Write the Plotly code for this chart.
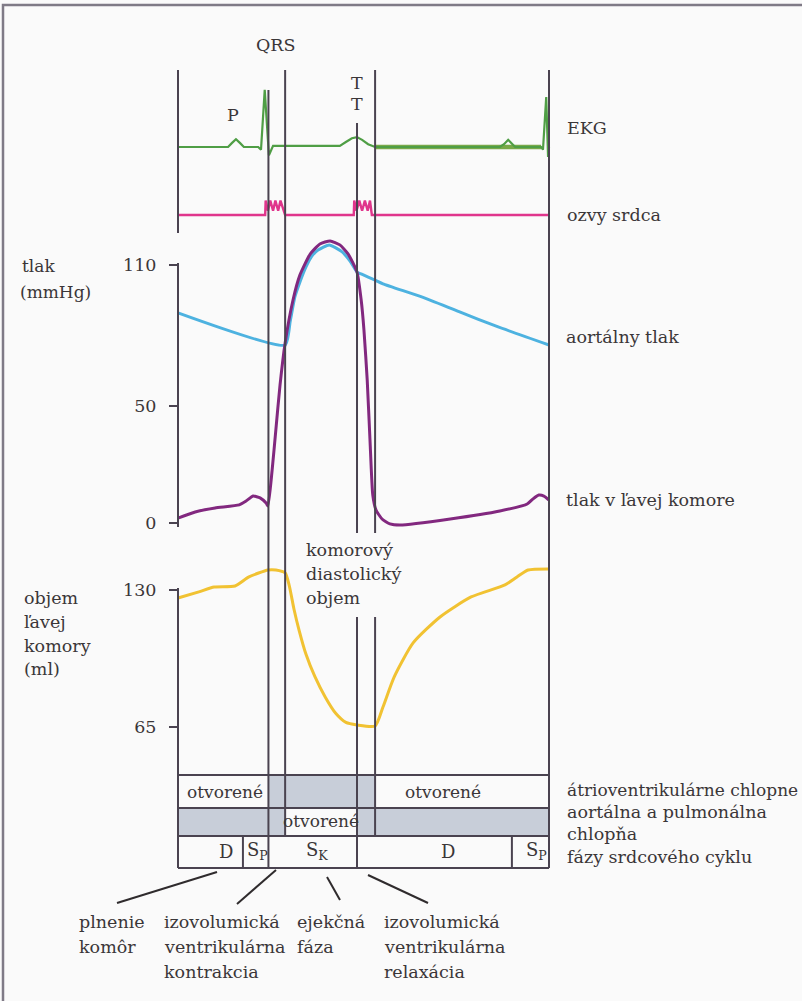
import plotly.graph_objects as go

# ---------------- data: one cardiac cycle, time in ms ----------------
ekg_t = [0, 108, 116, 125, 134, 142, 173, 179, 187, 196, 205, 349, 362, 375, 386,
         397, 410, 425, 694, 703, 712, 720, 727, 783, 787, 794, 798, 800]
ekg_mv = [0, 0, 0.07, 0.14, 0.07, 0, 0, -0.05, 1.04, -0.15, 0.02, 0.02, 0.09, 0.16, 0.18,
          0.13, 0.05, 0, 0, 0.05, 0.13, 0.05, 0, 0, -0.05, 0.91, -0.18, 0]

snd_t = [0, 188, 189, 194, 199, 205, 210, 216, 221, 227, 231, 379, 380, 385, 391, 397, 403,
         409, 414, 418, 800]
snd_a = [0, 0, 1.2, 0.35, 1.2, 0.35, 1.2, 0.35, 1.2, 0.35, 0, 0, 1.2, 0.35, 1.2, 0.35, 1.2,
         0.35, 1.2, 0, 0]

lv_t = [0, 37, 80, 132, 147, 162, 177, 190, 194, 203, 211, 220, 231, 248, 263, 285, 306,
        328, 349, 367, 386, 395, 401, 408, 414, 420, 427, 440, 457, 479, 587, 694, 753,
        765, 778, 789, 800]
lv_p = [2.1, 4.7, 6.4, 7.7, 9.4, 11.5, 10.7, 8.5, 7.2, 22.6, 39.7, 58.8, 76.8, 95.1, 105.8,
        114.7, 119.0, 120.3, 118.6, 114.7, 107.0, 95.1, 82.3, 61.0, 35.4, 11.9, 5.5, 1.7,
        -0.4, -0.9, 1.7, 5.1, 8.1, 10.2, 11.9, 11.5, 9.8]

ao_t = [0, 231, 242, 252, 263, 276, 289, 302, 326, 354, 371, 386, 395, 425, 442, 524, 606, 689, 800]
ao_p = [89.6, 75.9, 86.1, 96.4, 102.8, 109.2, 113.9, 116.4, 118.6, 115.6, 111.7, 107.0, 106.2,
        103.6, 102.0, 96.5, 90.1, 83.7, 75.9]

vol_t = [0, 45, 78, 123, 153, 194, 211, 231, 240, 250, 261, 276, 295, 318, 340, 362, 386,
         425, 442, 466, 507, 565, 632, 705, 731, 755, 800]
vol_ml = [126.2, 129.1, 131.4, 131.9, 136.2, 139.5, 139.5, 138.1, 132.0, 121.0, 111.0, 99.5,
          89.0, 79.0, 71.5, 67.2, 66.0, 65.5, 74.5, 88.7, 104.9, 117.2, 126.7, 132.4, 136.2,
          139.5, 140.0]

pressure_ticks = [0, 50, 110]
volume_ticks = [65, 130]

# cycle events (ms)
CYCLE_END = 800
MITRAL_CLOSE = 195
AORTIC_OPEN = 231
AORTIC_CLOSE = 386
MITRAL_OPEN = 425

# phases of the cycle
phase_start = [0, 140, 195, 386, 720]
phase_end = [140, 195, 386, 720, 800]
phase_text = ["D", "S<sub>P</sub>", "S<sub>K</sub>", "D", "S<sub>P</sub>"]
phase_text_t = [104, 172, 300, 582, 774]

# valve state rows: (start, end, open?)
av_valves = [(0, 195, True), (195, 425, False), (425, 800, True)]
semilunar_valves = [(0, 231, False), (231, 386, True), (386, 800, False)]
valve_text_t = {"av": [101, 571], "sl": [309]}

# ---------------- layout geometry (pixels) ----------------
W, H = 802, 1001
T0_PX, T1_PX = 178, 549
MS_PER_PX = CYCLE_END / (T1_PX - T0_PX)

EKG_BASE, EKG_PX = 147, 55.0          # px per mV
SND_BASE, SND_PX = 215, 12.0
P_ZERO, P_PX = 523, 2.345             # px per mmHg
V_REF, V_REF_PX, V_PX = 130, 590, 2.108  # px per ml


def fy(p):
    return 1 - p / H


def fx(p):
    return p / W


INK = "#3a3638"
LINE = "#4a4350"
FONT = "DejaVu Serif"
SHADE = "#c8ced9"

fig = go.Figure()

# EKG
fig.add_trace(go.Scatter(x=[ekg_t[17], ekg_t[23]], y=[ekg_mv[17], ekg_mv[23]], mode="lines",
                         line=dict(color="#79a948", width=4.5), yaxis="y", hoverinfo="skip"))
fig.add_trace(go.Scatter(x=ekg_t, y=ekg_mv, mode="lines",
                         line=dict(color="#4f9e45", width=2.2), yaxis="y", hoverinfo="skip"))
# heart sounds
fig.add_trace(go.Scatter(x=snd_t, y=snd_a, mode="lines",
                         line=dict(color="#e0358c", width=2.4), yaxis="y2", hoverinfo="skip"))
# aortic and LV pressure
fig.add_trace(go.Scatter(x=ao_t, y=ao_p, mode="lines",
                         line=dict(color="#4db2e0", width=3, shape="spline", smoothing=0.5),
                         yaxis="y3", hoverinfo="skip"))
fig.add_trace(go.Scatter(x=lv_t, y=lv_p, mode="lines",
                         line=dict(color="#82287f", width=3, shape="spline", smoothing=0.5),
                         yaxis="y3", hoverinfo="skip"))
# LV volume
fig.add_trace(go.Scatter(x=vol_t, y=vol_ml, mode="lines",
                         line=dict(color="#f1c232", width=3, shape="spline", smoothing=0.6),
                         yaxis="y4", hoverinfo="skip"))

shapes = []


def vline(t, y0, y1, w=2):
    shapes.append(dict(type="line", xref="x", yref="paper", x0=t, x1=t, y0=fy(y0), y1=fy(y1),
                       line=dict(color=LINE, width=w)))


def hline(t0, t1, y, w=2):
    shapes.append(dict(type="line", xref="x", yref="paper", x0=t0, x1=t1, y0=fy(y), y1=fy(y),
                       line=dict(color=LINE, width=w)))


def cell(t0, t1, y0, y1, fill):
    shapes.append(dict(type="rect", xref="x", yref="paper", x0=t0, x1=t1, y0=fy(y1), y1=fy(y0),
                       fillcolor=fill, line=dict(width=0), layer="below"))


# page frame
shapes.append(dict(type="rect", xref="paper", yref="paper", x0=fx(3), x1=fx(812), y0=fy(1010), y1=fy(5),
                   line=dict(color="#7f7a86", width=2.5)))

# table rows
ROW = [775, 808, 836, 868]
for t0, t1, is_open in av_valves:
    if not is_open:
        cell(t0, t1, ROW[0], ROW[1], SHADE)
for t0, t1, is_open in semilunar_valves:
    if not is_open:
        cell(t0, t1, ROW[1], ROW[2], SHADE)

# time markers
vline(0, 70, 233)
vline(0, 263, 527)
vline(0, 588, ROW[3])
vline(MITRAL_CLOSE, 90, ROW[2])
vline(AORTIC_OPEN, 70, ROW[2])
vline(AORTIC_CLOSE, 123, 533)
vline(AORTIC_CLOSE, 617, ROW[2])
vline(MITRAL_OPEN, 70, 533)
vline(MITRAL_OPEN, 617, ROW[2])
vline(CYCLE_END, 70, ROW[3])

for y in ROW:
    hline(0, CYCLE_END, y)
for t in phase_start[1:]:
    vline(t, ROW[2], ROW[3])

# leader lines below the table
for (xa, ya, xb, yb) in [(217, 872, 117, 903), (276, 870, 237, 904),
                         (327, 877, 340, 900), (368, 875, 428, 903)]:
    shapes.append(dict(type="line", xref="paper", yref="paper", x0=fx(xa), y0=fy(ya),
                       x1=fx(xb), y1=fy(yb), line=dict(color="#2f2b2d", width=2)))

ann = []


def text(s, x, y, size=17.5, anchor="left", xref="paper"):
    ann.append(dict(text=s, x=(fx(x) if xref == "paper" else x), y=fy(y), xref=xref, yref="paper",
                    xanchor=anchor, yanchor="middle", showarrow=False,
                    font=dict(family=FONT, size=size, color=INK)))


# waveform labels
text("QRS", 276, 45, anchor="center")
text("P", 233, 115, anchor="center")
text("T", 357, 83, anchor="center")
text("T", 357, 104, anchor="center")

# right-hand legend
text("EKG", 565, 128)
text("ozvy srdca", 565, 215)
text("aortálny tlak", 564, 337)
text("tlak v ľavej komore", 564, 500)
text("átrioventrikulárne chlopne", 565, 790, size=17)
text("aortálna a pulmonálna", 565, 812)
text("chlopňa", 565, 834)
text("fázy srdcového cyklu", 565, 857)

# axis titles
text("tlak", 20, 266, size=17)
text("(mmHg)", 18, 292, size=17)
text("objem", 22, 598)
text("ľavej", 22, 622)
text("komory", 22, 646)
text("(ml)", 22, 669)

text("komorový", 304, 550)
text("diastolický", 304, 574)
text("objem", 304, 598)

# table texts
for t in valve_text_t["av"]:
    text("otvorené", t, 792, size=17, anchor="center", xref="x")
for t in valve_text_t["sl"]:
    text("otvorené", t, 821, size=17, anchor="center", xref="x")
for s, t in zip(phase_text, phase_text_t):
    text(s, t, 851, size=18, anchor="center", xref="x")

# phase descriptions
for i, s in enumerate(["plnenie", "komôr"]):
    text(s, 77, 922 + 25 * i)
for i, s in enumerate(["izovolumická", "ventrikulárna", "kontrakcia"]):
    text(s, 162, 922 + 25 * i)
for i, s in enumerate(["ejekčná", "fáza"]):
    text(s, 295, 922 + 25 * i)
for i, s in enumerate(["izovolumická", "ventrikulárna", "relaxácia"]):
    text(s, 382, 922 + 25 * i)

hidden = dict(visible=False, fixedrange=True)
tick_axis = dict(overlaying="y", anchor="free", position=fx(T0_PX), side="left",
                 ticks="outside", ticklen=9, tickwidth=2, tickcolor=LINE,
                 showline=False, showgrid=False, zeroline=False, ticklabelstandoff=9,
                 tickfont=dict(family=FONT, size=17.5, color=INK))

fig.update_layout(
    width=W, height=H, margin=dict(l=0, r=0, t=0, b=0),
    paper_bgcolor="#fafafa", plot_bgcolor="rgba(0,0,0,0)", showlegend=False,
    xaxis=dict(domain=[0, 1], range=[-T0_PX * MS_PER_PX, (W - T0_PX) * MS_PER_PX], **hidden),
    yaxis=dict(domain=[0, 1], range=[-(H - EKG_BASE) / EKG_PX, EKG_BASE / EKG_PX], **hidden),
    yaxis2=dict(overlaying="y", range=[-(H - SND_BASE) / SND_PX, SND_BASE / SND_PX], **hidden),
    yaxis3=dict(range=[(P_ZERO - H) / P_PX, P_ZERO / P_PX], tickvals=pressure_ticks, **tick_axis),
    yaxis4=dict(range=[V_REF - (H - V_REF_PX) / V_PX, V_REF + V_REF_PX / V_PX],
                tickvals=volume_ticks, **tick_axis),
    shapes=shapes, annotations=ann,
)

fig.write_html("out.html")
